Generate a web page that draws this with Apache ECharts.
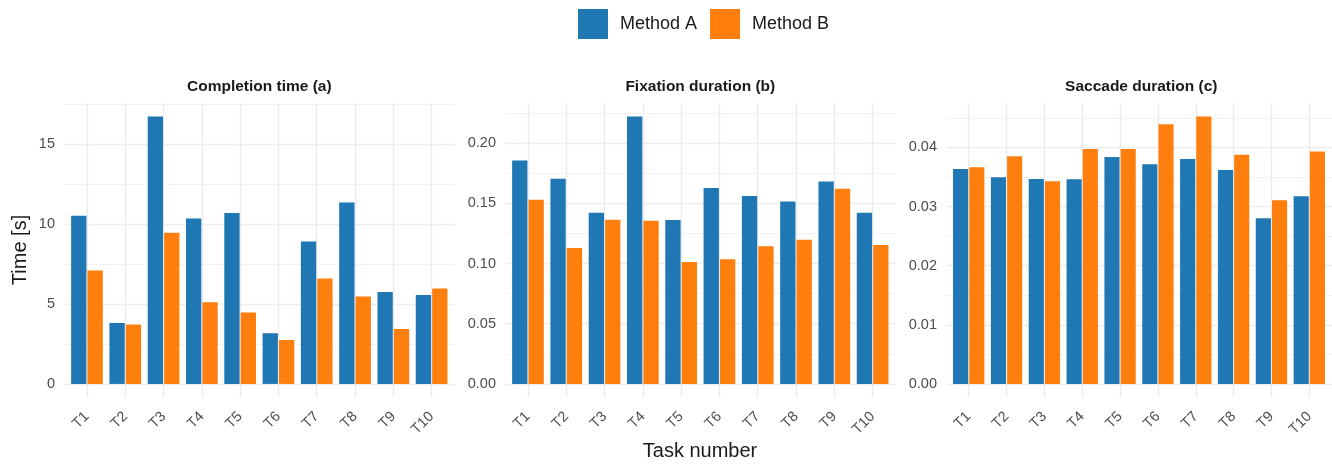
<!DOCTYPE html>
<html>
<head>
<meta charset="utf-8">
<script src="https://cdn.jsdelivr.net/npm/echarts@6/dist/echarts.min.js"></script>
<style>
html,body{margin:0;padding:0;background:#fff;}
#chart{width:1332px;height:468px;}
</style>
</head>
<body>
<div id="chart"></div>
<script>
const categories = ['T1','T2','T3','T4','T5','T6','T7','T8','T9','T10'];
const seriesNames = ['Method A','Method B'];
const panelTitles = ['Completion time (a)','Fixation duration (b)','Saccade duration (c)'];

const completionA = [10.52, 3.81, 16.73, 10.35, 10.69, 3.17, 8.90, 11.35, 5.75, 5.56];
const completionB = [7.10, 3.71, 9.46, 5.10, 4.46, 2.75, 6.60, 5.46, 3.44, 5.96];
const fixationA = [0.1856, 0.1704, 0.1422, 0.2222, 0.1361, 0.1627, 0.1560, 0.1516, 0.1682, 0.1422];
const fixationB = [0.1530, 0.1129, 0.1364, 0.1355, 0.1012, 0.1035, 0.1143, 0.1198, 0.1621, 0.1154];
const saccadeA = [0.03634, 0.03493, 0.03465, 0.03459, 0.03836, 0.03713, 0.03803, 0.03617, 0.02800, 0.03172];
const saccadeB = [0.03662, 0.03848, 0.03425, 0.03972, 0.03972, 0.04389, 0.04524, 0.03876, 0.03105, 0.03932];

const yMajorStep = [5, 0.05, 0.01];
const yDecimals = [0, 2, 2];

const panelsData = [[completionA, completionB],[fixationA, fixationB],[saccadeA, saccadeB]];
const colors = ['#1f77b4', '#ff7f0e'];
const FONT = '"Liberation Sans", Arial, Helvetica, sans-serif';
const gridLefts = [64, 505, 946];
const gridW = 390.6, gridTop = 103, gridH = 294.3;

function extentOf(arrs){
  let mx = 0;
  arrs.forEach(a => a.forEach(v => { if (v > mx) mx = v; }));
  const pad = mx * 0.05;
  return [-pad, mx + pad];
}

const grids = [], xAxes = [], yAxes = [], series = [], titles = [];
panelsData.forEach((pair, p) => {
  grids.push({left: gridLefts[p], top: gridTop, width: gridW, height: gridH, containLabel: false});
  titles.push({
    text: panelTitles[p], left: gridLefts[p] + gridW/2, top: 79, textAlign: 'center', padding: 0,
    textStyle: {fontFamily: FONT, fontSize: 15.5, fontWeight: 'bold', color: '#1a1a1a'}
  });
  xAxes.push({
    type: 'value', gridIndex: p, min: 0.4, max: 10.6, minInterval: 1, maxInterval: 1,
    axisLine: {show: false}, axisTick: {show: false},
    splitLine: {show: true, showMinLine: false, showMaxLine: false, lineStyle: {color: '#ebebeb', width: 1.4}},
    axisLabel: {
      show: true, rotate: 45, margin: 17, color: '#4d4d4d', fontFamily: FONT, fontSize: 14.5,
      showMinLabel: false, showMaxLabel: false,
      formatter: v => { const i = Math.round(v) - 1; return (Math.abs(v - Math.round(v)) < 1e-6 && categories[i]) ? categories[i] : ''; }
    }
  });
  const ext = extentOf(pair);
  const step = yMajorStep[p];
  const dec = yDecimals[p];
  // major
  yAxes.push({
    type: 'value', gridIndex: p, min: ext[0], max: ext[1], minInterval: step, maxInterval: step,
    axisLine: {show: false}, axisTick: {show: false},
    splitLine: {show: true, showMinLine: false, showMaxLine: false, lineStyle: {color: '#ebebeb', width: 1.4}},
    axisLabel: {show: true, margin: 9, color: '#4d4d4d', fontFamily: FONT, fontSize: 14.5,
      showMinLabel: false, showMaxLabel: false,
      formatter: v => Number(v).toFixed(dec)}
  });
  // minor
  yAxes.push({
    type: 'value', gridIndex: p, min: ext[0], max: ext[1], minInterval: step/2, maxInterval: step/2,
    axisLine: {show: false}, axisTick: {show: false}, axisLabel: {show: false},
    splitLine: {show: true, showMinLine: false, showMaxLine: false, lineStyle: {color: '#efefef', width: 0.8}}
  });
  pair.forEach((vals, s) => {
    series.push({
      type: 'bar', name: seriesNames[s], xAxisIndex: p, yAxisIndex: p*2,
      data: vals.map((v, i) => [i + 1, v]),
      barCategoryGap: '17.2%', barGap: '7%',
      itemStyle: {color: colors[s]},
      emphasis: {disabled: true},
      animation: false
    });
  });
});

const chart = echarts.init(document.getElementById('chart'), null, {renderer: 'canvas'});
chart.setOption({
  animation: false,
  backgroundColor: '#ffffff',
  title: titles,
  legend: {
    data: seriesNames, left: 578, top: 9, padding: 0, icon: 'rect', itemWidth: 30, itemHeight: 30, itemGap: 13,
    selectedMode: false,
    textStyle: {fontFamily: FONT, fontSize: 18, color: '#1a1a1a', padding: [0, 0, 0, 7]}
  },
  grid: grids,
  xAxis: xAxes,
  yAxis: yAxes,
  series: series,
  graphic: [
    {type: 'text', x: 20, y: 250, rotation: Math.PI/2,
     style: {text: 'Time [s]', font: '20px ' + FONT, fill: '#1a1a1a', align: 'center', verticalAlign: 'middle'}},
    {type: 'text', x: 700, y: 451,
     style: {text: 'Task number', font: '20px ' + FONT, fill: '#1a1a1a', align: 'center', verticalAlign: 'middle'}}
  ]
});
</script>
</body>
</html>
